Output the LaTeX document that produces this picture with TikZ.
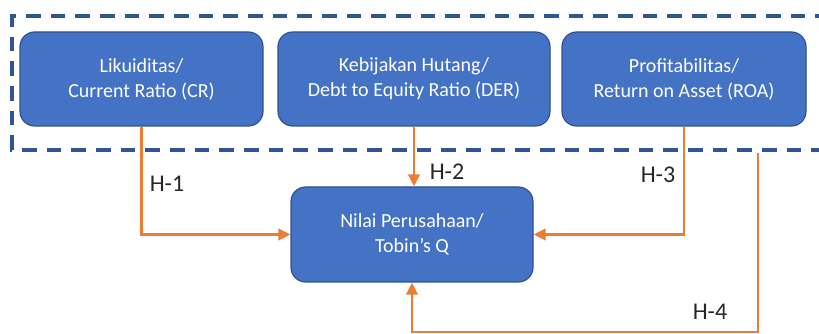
\documentclass[tikz,border=0pt]{standalone}
\usepackage{fontspec}
\setmainfont{Carlito}
\usetikzlibrary{arrows.meta}
\definecolor{boxblue}{HTML}{4472C4}
\definecolor{boxline}{HTML}{2F528F}
\definecolor{dashblue}{HTML}{2F5597}
\definecolor{arrorange}{HTML}{ED7D31}
\tikzset{
  varbox/.style={draw=boxline, line width=0.9pt, fill=boxblue, rounded corners=11pt,
    text=white, align=center, minimum height=70.5pt, inner sep=2pt,
    font=\fontsize{15}{18.75}\selectfont},
  hyp/.style={draw=arrorange, line width=2pt, -{Triangle[length=9pt,width=8.5pt]}},
  hyplabel/.style={text=black!85, font=\fontsize{18}{20}\selectfont}
}
\begin{document}
\begin{tikzpicture}[x=0.75pt,y=-0.75pt]
    \useasboundingbox (0,0) rectangle (819,334);
    \clip (0,0) rectangle (819,334);
    \draw[dashblue, line width=2.6pt, dash pattern=on 11pt off 7.5pt] (830,16) -- (12,16) -- (12,150) -- (830,150);
    \node[varbox, minimum width=182.25pt] (cr) at (141.5,79) {Likuiditas/\\Current Ratio (CR)};
    \node[varbox, minimum width=204pt] (der) at (414,79) {Kebijakan Hutang/\\Debt to Equity Ratio (DER)};
    \node[varbox, minimum width=183pt] (roa) at (684,79) {Profitabilitas/\\Return on Asset (ROA)};
    \node[varbox, minimum width=181.5pt, minimum height=71.25pt] (nilai) at (412,234.5) {Nilai Perusahaan/\\Tobin’s Q};
    \coordinate (h4top) at (758,153);
    \coordinate (h4bot) at (758,332);
    \draw[hyp] (cr.south) |- (nilai.west);
    \draw[hyp] (der.south) -- (der.south |- nilai.north);
    \draw[hyp] (roa.south) |- (nilai.east);
    \draw[hyp] (h4top) -- (h4bot) -| (nilai.south);
    \node[hyplabel] (l1) at (167,184) {H-1};
    \node[hyplabel] (l2) at (447,172) {H-2};
    \node[hyplabel] (l3) at (658,175) {H-3};
    \node[hyplabel] (l4) at (710,312) {H-4};
\end{tikzpicture}
\end{document}
